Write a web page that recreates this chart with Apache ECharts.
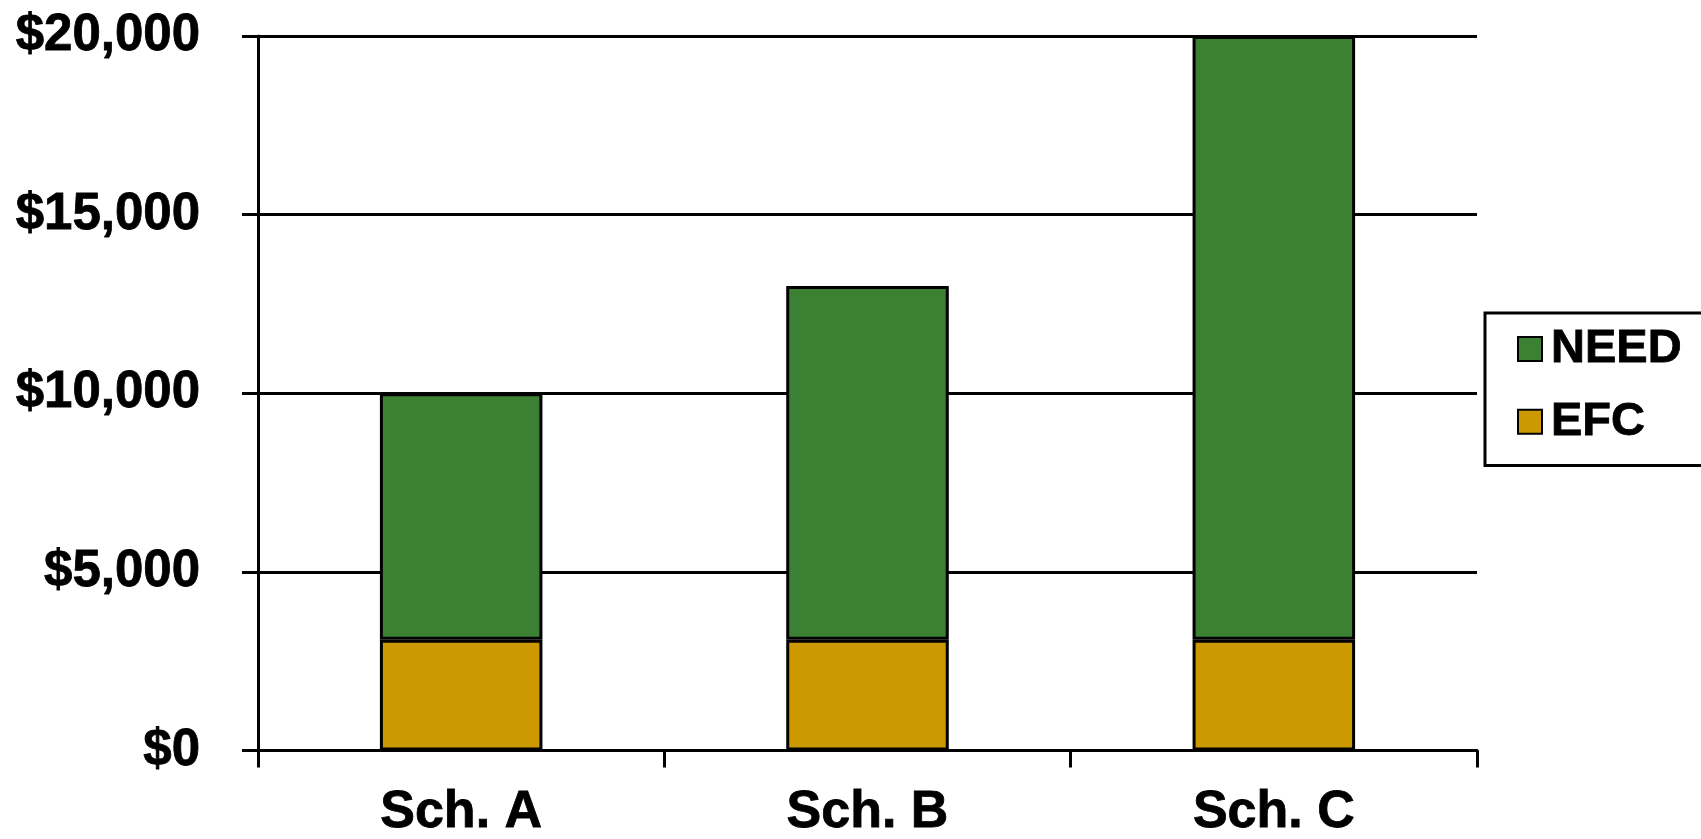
<!DOCTYPE html>
<html>
<head>
<meta charset="utf-8">
<title>EFC and Need by School</title>
<script src="https://cdn.jsdelivr.net/npm/echarts@6/dist/echarts.min.js"></script>
<style>
  html, body { margin: 0; padding: 0; background: #ffffff; }
  #chart { width: 1701px; height: 839px; }
</style>
</head>
<body>
<div id="chart"></div>
<script>
// Schools on the x axis
const schools = ['Sch. A', 'Sch. B', 'Sch. C'];
// Expected family contribution (same at every school)
const efc = [3100, 3100, 3100];
// Financial need = cost of attendance minus EFC
const need = [6900, 9900, 16900];
// Value axis ticks
const yTicks = [0, 5000, 10000, 15000, 20000];

const FONT = '"Liberation Sans", Arial, sans-serif';
const labelStyle = {
  fontFamily: FONT,
  fontWeight: 'bold',
  color: '#000',
  textBorderColor: '#000',
  textBorderWidth: 0.8
};

const chart = echarts.init(document.getElementById('chart'), null, { renderer: 'canvas' });

chart.setOption({
  animation: false,
  backgroundColor: '#ffffff',
  grid: { left: 258, right: 224, top: 36, bottom: 86, containLabel: false },
  legend: {
    orient: 'vertical',
    left: 1485,
    top: 313,
    data: ['NEED', 'EFC'],
    itemWidth: 24,
    itemHeight: 24,
    itemGap: 25,
    padding: [12, 60, 20, 32],
    borderColor: '#000',
    borderWidth: 3,
    icon: 'rect',
    itemStyle: { borderColor: '#000', borderWidth: 2 },
    textStyle: Object.assign({ fontSize: 47, padding: [0, 0, 0, 4] }, labelStyle)
  },
  xAxis: {
    type: 'category',
    data: schools,
    axisLine: { lineStyle: { color: '#000', width: 3 } },
    axisTick: { show: true, length: 17, lineStyle: { color: '#000', width: 3 } },
    axisLabel: Object.assign({ fontSize: 52, margin: 36 }, labelStyle)
  },
  yAxis: {
    type: 'value',
    min: yTicks[0],
    max: yTicks[yTicks.length - 1],
    interval: yTicks[1] - yTicks[0],
    axisLine: { show: true, lineStyle: { color: '#000', width: 3 } },
    axisTick: { show: true, length: 16, lineStyle: { color: '#000', width: 3 } },
    splitLine: { show: true, lineStyle: { color: '#000', width: 3 } },
    axisLabel: Object.assign({
      fontSize: 51,
      margin: 58,
      formatter: v => '$' + v.toLocaleString('en-US')
    }, labelStyle)
  },
  series: [
    {
      name: 'EFC',
      type: 'bar',
      stack: 'cost',
      data: efc,
      barWidth: '40%',
      itemStyle: { color: '#CC9900', borderColor: '#000', borderWidth: 3 }
    },
    {
      name: 'NEED',
      type: 'bar',
      stack: 'cost',
      data: need,
      barWidth: '40%',
      itemStyle: { color: '#3C8033', borderColor: '#000', borderWidth: 3 }
    }
  ]
});
</script>
</body>
</html>
